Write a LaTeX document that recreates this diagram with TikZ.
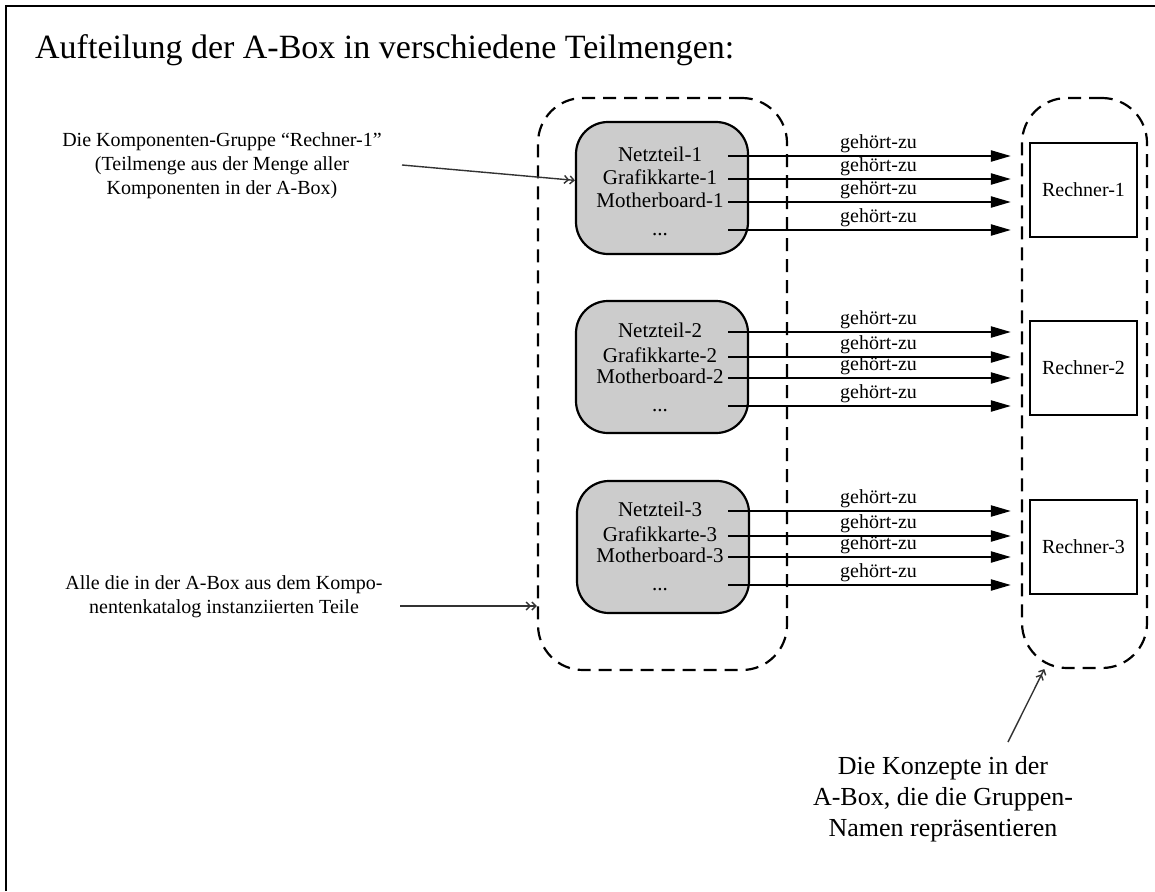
\documentclass[tikz,border=0pt]{standalone}
\usepackage{fontspec}
\setmainfont{Liberation Serif}
\usepackage{tikz}
\usetikzlibrary{arrows.meta}

\begin{document}
\begin{tikzpicture}[x=1pt,
                    y=-1pt,
                    >={Triangle[length=20pt,width=11pt]},
                    grp/.style={draw, line width=2.2pt, dash pattern=on 13pt off 8pt, rounded corners=45pt},
                    comp/.style={draw, line width=2.2pt, rounded corners=32pt, fill=black!20, minimum width=172pt, minimum height=132pt},
                    row/.style={inner sep=0pt, text width=136pt, align=center, text height=14pt, text depth=4pt, font=\fontsize{21}{24}\selectfont},
                    rech/.style={draw, line width=2.2pt, minimum width=107pt, minimum height=94pt, font=\fontsize{20}{24}\selectfont},
                    rel/.style={->, line width=2.2pt, shorten >=18pt},
                    lbl/.style={inner sep=2pt, font=\fontsize{20}{24}\selectfont},
                    note/.style={align=center, font=\fontsize{20}{24}\selectfont},
                    ptr/.style={line width=1.4pt, black!80, -{Straight Barb[length=4pt]Straight Barb[length=4pt]}}
                    ]
  \useasboundingbox (0,0) rectangle (1155,891);
  \draw[line width=2pt] (6,891) -- (6,6) -- (1155,6);

  \node[anchor=base west, inner sep=0pt, font=\fontsize{34}{38}\selectfont] (title) at (35,59)
       {Aufteilung der A-Box in verschiedene Teilmengen:};

  % the two groups
  \node[grp, minimum width=249pt, minimum height=572pt] (grpA) at (662.5,384) {};
  \node[grp, minimum width=125pt, minimum height=570pt] (grpR) at (1084.5,383) {};

  % component groups
  \node[comp] (k1) at (662,188) {};
  \node[comp] (k2) at (662,367) {};
  \node[comp] (k3) at (663,547) {};

  \node[row] (nt1) at (660,156) {Netzteil-1};
  \node[row] (gk1) at (660,179) {Grafikkarte-1};
  \node[row] (mb1) at (660,202) {Motherboard-1};
  \node[row] (dd1) at (660,230) {...};
  \node[row] (nt2) at (660,332) {Netzteil-2};
  \node[row] (gk2) at (660,357) {Grafikkarte-2};
  \node[row] (mb2) at (660,378) {Motherboard-2};
  \node[row] (dd2) at (660,406) {...};
  \node[row] (nt3) at (660,511) {Netzteil-3};
  \node[row] (gk3) at (660,536) {Grafikkarte-3};
  \node[row] (mb3) at (660,557) {Motherboard-3};
  \node[row] (dd3) at (660,585) {...};

  % group names
  \node[rech] (r1) at (1083.5,190) {Rechner-1};
  \node[rech] (r2) at (1083.5,368) {Rechner-2};
  \node[rech] (r3) at (1083.5,547) {Rechner-3};

  \draw[rel] (nt1.east) -- node[lbl, above] {gehört-zu} (nt1.east -| r1.west);
  \draw[rel] (gk1.east) -- node[lbl, above] {gehört-zu} (gk1.east -| r1.west);
  \draw[rel] (mb1.east) -- node[lbl, above] {gehört-zu} (mb1.east -| r1.west);
  \draw[rel] (dd1.east) -- node[lbl, above] {gehört-zu} (dd1.east -| r1.west);
  \draw[rel] (nt2.east) -- node[lbl, above] {gehört-zu} (nt2.east -| r2.west);
  \draw[rel] (gk2.east) -- node[lbl, above] {gehört-zu} (gk2.east -| r2.west);
  \draw[rel] (mb2.east) -- node[lbl, above] {gehört-zu} (mb2.east -| r2.west);
  \draw[rel] (dd2.east) -- node[lbl, above] {gehört-zu} (dd2.east -| r2.west);
  \draw[rel] (nt3.east) -- node[lbl, above] {gehört-zu} (nt3.east -| r3.west);
  \draw[rel] (gk3.east) -- node[lbl, above] {gehört-zu} (gk3.east -| r3.west);
  \draw[rel] (mb3.east) -- node[lbl, above] {gehört-zu} (mb3.east -| r3.west);
  \draw[rel] (dd3.east) -- node[lbl, above] {gehört-zu} (dd3.east -| r3.west);

  % notes
  \node[note] (noteK) at (222,166)
       {Die Komponenten-Gruppe “Rechner-1”\\(Teilmenge aus der Menge aller\\Komponenten in der A-Box)};
  \node[note] (noteA) at (224,597)
       {Alle die in der A-Box aus dem Kompo-\\nentenkatalog instanziierten Teile};
  \node[note, font=\fontsize{26}{31}\selectfont] (noteR) at (943,799)
       {Die Konzepte in der\\A-Box, die die Gruppen-\\Namen repräsentieren};

  \coordinate (pK) at (402,165);
  \coordinate (pA) at (400,606);
  \coordinate (pR) at (1008,742);
  \draw[ptr] (pK) -- (k1.175);
  \draw[ptr] (pA) -- (pA -| grpA.west);
  \draw[ptr] (pR) -- (grpR.262.5);
\end{tikzpicture}
\end{document}
